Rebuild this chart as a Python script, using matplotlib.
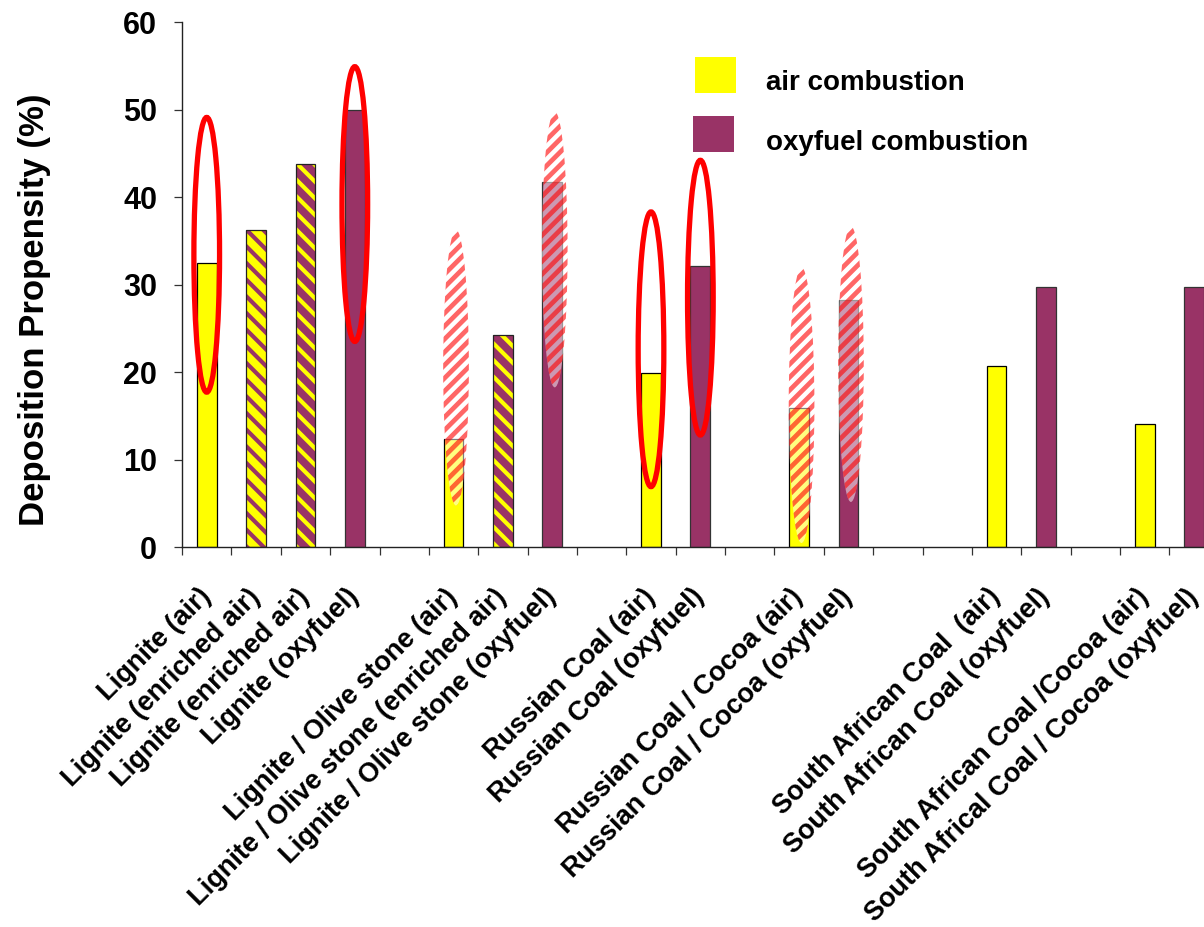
import matplotlib
matplotlib.use("Agg")
import matplotlib.pyplot as plt
from matplotlib.patches import Ellipse, Rectangle
from matplotlib.collections import LineCollection
from matplotlib.transforms import IdentityTransform
import numpy as np

plt.rcParams['font.family'] = ['Liberation Sans', 'DejaVu Sans']
plt.rcParams['font.weight'] = 'bold'
plt.rcParams['hatch.linewidth'] = 3.0

# categories (empty strings are the gaps between groups)
labels = ["Lignite (air)", "Lignite (enriched air)", "Lignite (enriched air)",
          "Lignite (oxyfuel)", "",
          "Lignite / Olive stone (air)", "Lignite / Olive stone (enriched air)",
          "Lignite / Olive stone (oxyfuel)", "",
          "Russian Coal (air)", "Russian Coal (oxyfuel)", "",
          "Russian Coal / Cocoa (air)", "Russian Coal / Cocoa (oxyfuel)", "", "",
          "South African Coal  (air)", "South African Coal (oxyfuel)", "",
          "South African Coal /Cocoa (air)", "South Africal Coal / Cocoa (oxyfuel)"]
values = [32.5, 36.2, 43.8, 50.0, np.nan,
          12.3, 24.2, 41.7, np.nan,
          19.9, 32.1, np.nan,
          15.9, 28.2, np.nan, np.nan,
          20.7, 29.7, np.nan,
          14.1, 29.7]
# combustion type of each bar
kind = ["air", "enr1", "enr2", "oxy", "",
        "air", "enr2", "oxy", "",
        "air", "oxy", "",
        "air", "oxy", "", "",
        "air", "oxy", "",
        "air", "oxy"]

# highlighted bars: solid red rings and hatched marks (index, centre value)
ring_idx = [0, 3, 9, 10]
ring_mid = [33.4, 39.2, 22.6, 28.5]
mark_idx = [5, 7, 12, 13]
mark_mid = [20.5, 34.0, 16.2, 20.9]

YELLOW = "#FFFF00"
PLUM = "#993366"

fig = plt.figure(figsize=(12.04, 9.27), dpi=100)
ax = fig.add_axes([0.1512, 0.4099, 0.8610, 0.5663])
ax.set_xlim(-0.5, len(labels) - 0.5)
ax.set_ylim(0, 60)

x = np.arange(len(labels))
w = 0.4
for i, (v, k) in enumerate(zip(values, kind)):
    if np.isnan(v):
        continue
    if k == "air":
        ax.bar(i, v, w, color=YELLOW, edgecolor="black", linewidth=0.9, zorder=2)
    elif k == "oxy":
        ax.bar(i, v, w, color=PLUM, edgecolor="#333333", linewidth=0.9, zorder=2)
    else:
        face, stripe = (YELLOW, PLUM) if k == "enr1" else (PLUM, YELLOW)
        ax.bar(i, v, w, color=face, edgecolor=stripe, linewidth=0, hatch="\\\\", zorder=2)
        ax.bar(i, v, w, fill=False, edgecolor="#222222", linewidth=0.9, zorder=3)

for i, m in zip(ring_idx, ring_mid):
    ax.add_patch(Ellipse((i, m), 0.52, 31.4, fill=False, edgecolor="red",
                         linewidth=3.8, zorder=5))

# hatched marks: light veil + red diagonal stripes clipped to the ellipse
step = 13
for i, m in zip(mark_idx, mark_mid):
    el = Ellipse((i + 0.05, m), 0.52, 31.5, facecolor=(1, 1, 1, 0.5),
                 edgecolor="none", zorder=4)
    ax.add_patch(el)
    cx, cy = ax.transData.transform((i + 0.05, m))
    segs = [[(cx + c - 200, cy - 200), (cx + c + 200, cy + 200)]
            for c in np.arange(-300, 301, step)]
    lc = LineCollection(segs, colors=[(1, 0, 0, 0.6)], linewidths=3.4,
                        transform=IdentityTransform(), zorder=4.5)
    ax.add_collection(lc, autolim=False)
    lc.set_clip_path(el)

ax.set_yticks(range(0, 61, 10))
ax.tick_params(axis="y", labelsize=22, length=6, width=0.9, pad=12, color="#333333")

ax.set_xticks(x)
ax.set_xticklabels(labels, rotation=45, ha="right", va="center",
                   rotation_mode="anchor", fontsize=19.5)
ax.tick_params(axis="x", which="major", length=0, pad=33)
ax.set_xticks(np.arange(-0.5, len(labels), 1), minor=True)
ax.tick_params(axis="x", which="minor", length=6, width=0.9, color="#333333")

for s in ["top", "right"]:
    ax.spines[s].set_visible(False)
for s in ["left", "bottom"]:
    ax.spines[s].set_linewidth(1.0)
    ax.spines[s].set_color("#222222")

fig.text(35 / 1204, 1 - 310 / 927, "Deposition Propensity (%)", rotation=90,
         fontsize=25, ha="center", va="center")

# legend, drawn by hand in figure pixels
W, H = 1204, 927
legend_items = [("air combustion", YELLOW, 695, 57, 90),
                ("oxyfuel combustion", PLUM, 693, 116, 150)]
for text, col, lx, ly, base in legend_items:
    fig.add_artist(Rectangle((lx / W, 1 - (ly + 36) / H), 41 / W, 36 / H,
                             facecolor=col, edgecolor="none",
                             transform=fig.transFigure))
    fig.text(766 / W, 1 - base / H, text, fontsize=20, ha="left", va="baseline")

fig.savefig("out.png", dpi=100)
